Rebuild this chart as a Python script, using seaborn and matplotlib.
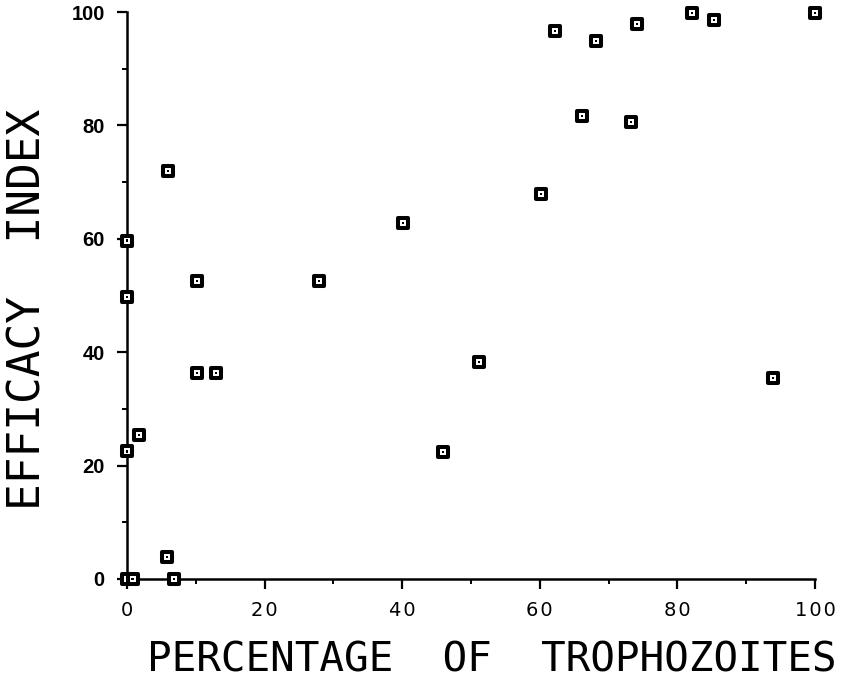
import matplotlib
matplotlib.use("Agg")
import matplotlib.pyplot as plt
import seaborn as sns
import pandas as pd
from matplotlib.ticker import MultipleLocator

# Data
trophozoites = [0, 0.8, 6.8, 5.8, 0, 1.7, 10.2, 12.9, 6.0, 0, 10.2, 0,
                27.9, 40.1, 45.9, 51.2, 60.2, 62.2, 66.1, 68.2, 73.3, 74.1,
                82.1, 85.3, 93.9, 100]
efficacy = [0, 0, 0, 3.9, 22.5, 25.4, 36.3, 36.3, 72, 59.7, 52.6, 49.7,
            52.6, 62.8, 22.4, 38.3, 67.9, 96.6, 81.7, 94.9, 80.6, 97.9,
            99.8, 98.6, 35.4, 99.8]
x_ticks = [0, 20, 40, 60, 80, 100]
y_ticks = [0, 20, 40, 60, 80, 100]
x_label = "PERCENTAGE  OF  TROPHOZOITES"
y_label = "EFFICACY  INDEX"

df = pd.DataFrame({"x": trophozoites, "y": efficacy})

sns.set_theme(style="ticks")
plt.rcParams["text.color"] = "black"
plt.rcParams["xtick.color"] = "black"
plt.rcParams["ytick.color"] = "black"
plt.rcParams["axes.labelcolor"] = "black"

fig = plt.figure(figsize=(8.43, 6.89), dpi=100)
ax = fig.add_axes([127/843, 1-579/689, 688/843, 567/689])

sns.scatterplot(data=df, x="x", y="y", ax=ax, marker="s", s=46,
                facecolor="white", edgecolor="black", linewidth=2.9,
                clip_on=False, zorder=5, legend=False)
sns.scatterplot(data=df, x="x", y="y", ax=ax, marker="s", s=2.5,
                color="black", edgecolor="none", linewidth=0,
                clip_on=False, zorder=6, legend=False)

ax.set_xlim(0, 100)
ax.set_ylim(0, 100)
ax.set_xticks(x_ticks)
ax.set_yticks(y_ticks)
ax.xaxis.set_minor_locator(MultipleLocator(10))
ax.yaxis.set_minor_locator(MultipleLocator(10))

for s in ["top", "right"]:
    ax.spines[s].set_visible(False)
for s in ["left", "bottom"]:
    ax.spines[s].set_linewidth(1.8)
    ax.spines[s].set_color("black")

ax.tick_params(axis="both", which="major", length=7, width=1.6, color="black",
               labelcolor="black", direction="out")
ax.tick_params(axis="both", which="minor", length=3.5, width=1.4, color="black", direction="out")
ax.tick_params(axis="x", which="major", pad=9)
ax.tick_params(axis="y", which="major", pad=9)

hair = "\u200a"
ax.set_xticklabels([hair.join(str(v)) for v in x_ticks], fontfamily="DejaVu Sans",
                   fontsize=14, color="black")
ax.set_yticklabels([str(v) for v in y_ticks], fontfamily="Liberation Sans",
                   fontweight="bold", fontsize=14.5, color="black")

ax.set_xlabel(x_label, fontfamily="DejaVu Sans Mono", fontsize=29.5, color="black")
ax.xaxis.set_label_coords((492-127)/688, (579-661)/567)
ax.xaxis.label.set_va("center")
ax.xaxis.label.set_ha("center")

ax.set_ylabel(y_label, fontfamily="DejaVu Sans Mono", fontsize=32, color="black")
ax.yaxis.set_label_coords((28-127)/688, (579-309)/567)
ax.yaxis.label.set_va("center")
ax.yaxis.label.set_ha("center")

ax.set_facecolor("white")
fig.patch.set_facecolor("white")
fig.savefig("out.png", dpi=100, facecolor="white")
